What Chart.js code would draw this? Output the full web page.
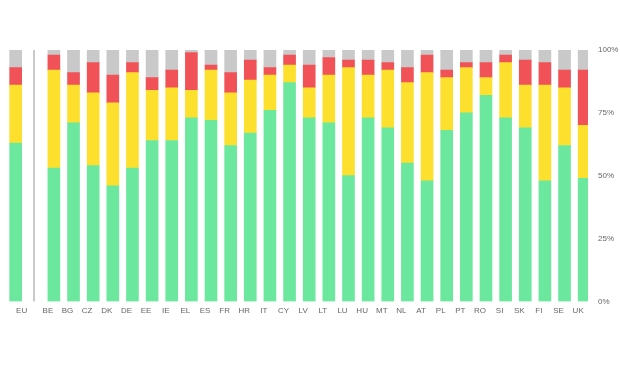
<!DOCTYPE html>
<html>
<head>
<meta charset="utf-8">
<script src="https://cdn.jsdelivr.net/npm/chart.js@4/dist/chart.umd.min.js"></script>
<style>
  html, body { margin: 0; padding: 0; background: #fff; }
</style>
</head>
<body>
<canvas id="laender" width="620" height="368"></canvas>
<script>
// Kategorien: EU zuerst, dann die Länder
var categories = ["EU", "BE", "BG", "CZ", "DK", "DE", "EE", "IE", "EL", "ES", "FR", "HR", "IT", "CY", "LV", "LT", "LU", "HU", "MT", "NL", "AT", "PL", "PT", "RO", "SI", "SK", "FI", "SE", "UK"];

var gruen = [63, 53, 71, 54, 46, 53, 64, 64, 73, 72, 62, 67, 76, 87, 73, 71, 50, 73, 69, 55, 48, 68, 75, 82, 73, 69, 48, 62, 49];
var gelb  = [23, 39, 15, 29, 33, 38, 20, 21, 11, 20, 21, 21, 14,  7, 12, 19, 43, 17, 23, 32, 43, 21, 18,  7, 22, 17, 38, 23, 21];
var rot   = [ 7,  6,  5, 12, 11,  4,  5,  7, 15,  2,  8,  8,  3,  4,  9,  7,  3,  6,  3,  6,  7,  3,  2,  6,  3, 10,  9,  7, 22];
var grau  = [ 7,  2,  9,  5, 10,  5, 11,  8,  1,  6,  9,  4,  7,  2,  6,  3,  4,  4,  5,  7,  2,  8,  5,  5,  2,  4,  5,  8,  8];

var yTicks = [0, 25, 50, 75, 100];

var serien = [
    { werte: gruen, farbe: "#6ce89e" },
    { werte: gelb, farbe: "#fde02e" },
    { werte: rot, farbe: "#f05257" },
    { werte: grau, farbe: "#c9c9c9" },
];

var datasets = [];
serien.forEach((s) => {
    datasets.push({ data: s.werte.slice(0, 1), backgroundColor: s.farbe, xAxisID: "xEU", barThickness: 12 });
});
serien.forEach((s) => {
    datasets.push({ data: s.werte.slice(1), backgroundColor: s.farbe, xAxisID: "x", barThickness: 12 });
});

// Trennlinie zwischen EU und den Ländern
const trenner = {
    id: "trenner",
    afterDatasetsDraw(chart) {
        const eu = chart.getDatasetMeta(0).data[0];
        const be = chart.getDatasetMeta(4).data[0];
        const x = Math.round(((eu.x + eu.width / 2) + (be.x - be.width / 2)) / 2) - 1;
        const ctx = chart.ctx;
        ctx.save();
        ctx.strokeStyle = "#c9c9c9";
        ctx.lineWidth = 2;
        ctx.beginPath();
        ctx.moveTo(x, chart.chartArea.top);
        ctx.lineTo(x, chart.chartArea.bottom);
        ctx.stroke();
        ctx.restore();
    },
};

Chart.defaults.font.family = "'Liberation Sans', Arial, sans-serif";
Chart.defaults.font.size = 8;
Chart.defaults.color = "#666";

var achse = {
    type: "category",
    position: "bottom",
    stack: "unten",
    stacked: true,
    offset: true,
    grid: { display: false, drawTicks: false },
    border: { display: false },
    ticks: { padding: 5, maxRotation: 0, autoSkip: false },
};

new Chart(document.getElementById("laender"), {
    type: "bar",
    data: { datasets: datasets },
    options: {
        responsive: false,
        animation: false,
        events: [],
        layout: { padding: { left: 2, right: 2, top: 50, bottom: 47 } },
        plugins: { legend: { display: false }, tooltip: { enabled: false } },
        scales: {
            xEU: Object.assign({}, achse, { labels: categories.slice(0, 1), stackWeight: 1 }),
            x: Object.assign({}, achse, { labels: categories.slice(1), stackWeight: 16.75 }),
            y: {
                position: "right",
                stacked: true,
                min: 0,
                max: 100,
                afterBuildTicks: (axis) => {
                    axis.ticks = yTicks.map((v) => ({ value: v }));
                },
                afterFit: (axis) => {
                    axis.width = 30;
                },
                ticks: { padding: 10, callback: (v) => v + "%" },
                grid: { display: false, drawTicks: false },
                border: { display: false },
            },
        },
    },
    plugins: [trenner],
});
</script>
</body>
</html>
